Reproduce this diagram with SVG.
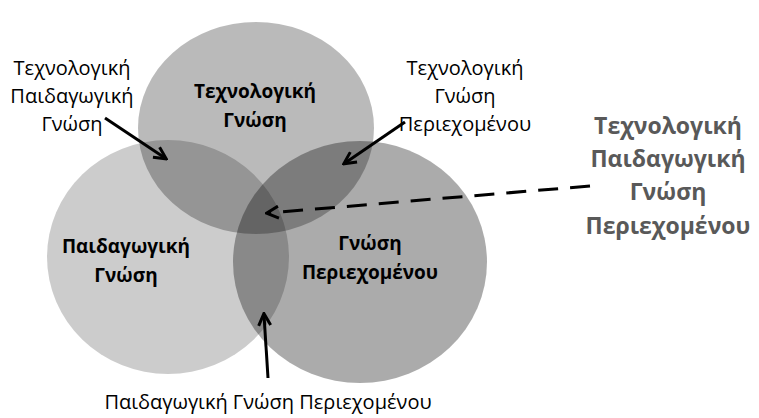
<svg xmlns="http://www.w3.org/2000/svg" width="759" height="418" viewBox="0 0 759 418">
<style>
text{font-family:"Open Sans","Liberation Sans",sans-serif;font-size:20px;text-anchor:middle;fill:#000}
.b{font-weight:bold;font-size:19px}
.big{font-weight:bold;font-size:23px;fill:#595959}
.c{stroke:none}
.a{stroke:#000;stroke-width:3;fill:none}
</style>
<defs>
<marker id="h" viewBox="0 0 10 10" refX="8" refY="5" markerWidth="5" markerHeight="5" orient="auto"><path d="M1,1 L9,5 L1,9" fill="none" stroke="#000" stroke-width="2"/></marker>
<marker id="h2" viewBox="0 0 10 10" refX="8" refY="5" markerWidth="5" markerHeight="5" orient="auto"><path d="M1,1 L9,5 L1,9" fill="none" stroke="#000" stroke-width="2"/></marker>
</defs>
<rect width="759" height="418" fill="#fff"/>
<g id="pedagogical"><ellipse class="c" cx="168" cy="257" rx="121" ry="117" fill="#000" fill-opacity="0.2"/></g>
<g id="technological"><ellipse class="c" cx="256" cy="128" rx="118" ry="106" fill="#000" fill-opacity="0.27"/></g>
<g id="content"><ellipse class="c" cx="360" cy="262" rx="127" ry="121" fill="#000" fill-opacity="0.33"/></g>
<g id="labels">
<text class="b" x="255" y="98">Τεχνολογική</text><text class="b" x="255" y="127">Γνώση</text>
<text class="b" x="126" y="253">Παιδαγωγική</text><text class="b" x="126" y="282">Γνώση</text>
<text class="b" x="370" y="250">Γνώση</text><text class="b" x="370" y="279">Περιεχομένου</text>
<text x="72" y="75">Τεχνολογική</text><text x="72" y="103">Παιδαγωγική</text><text x="72" y="131">Γνώση</text>
<text x="465" y="75">Τεχνολογική</text><text x="465" y="103">Γνώση</text><text x="465" y="131">Περιεχομένου</text>
<text class="big" x="668" y="134">Τεχνολογική</text><text class="big" x="668" y="167">Παιδαγωγική</text><text class="big" x="668" y="200">Γνώση</text><text class="big" x="668" y="234">Περιεχομένου</text>
<text x="268" y="409">Παιδαγωγική Γνώση Περιεχομένου</text>
</g>
<g id="connectors">
<line class="a" x1="105" y1="118" x2="165" y2="158" marker-end="url(#h)"/>
<line class="a" x1="405" y1="122" x2="345" y2="163" marker-end="url(#h)"/>
<line class="a" x1="268" y1="378" x2="264" y2="315" marker-end="url(#h)"/>
<line class="a" x1="590" y1="186" x2="268" y2="213" stroke-width="5" stroke-dasharray="20,12" marker-end="url(#h2)"/>
</g>
</svg>
